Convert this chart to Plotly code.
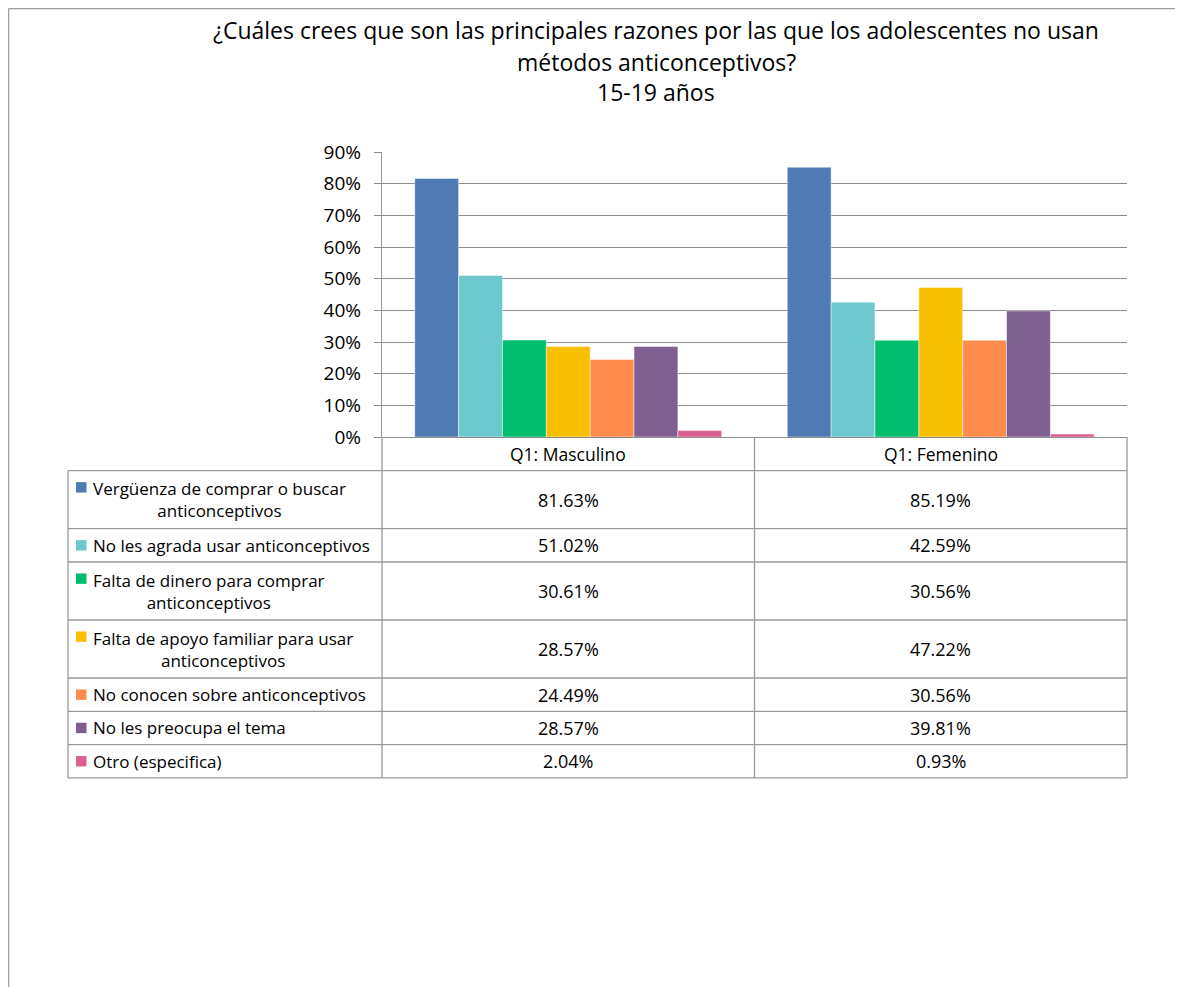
import textwrap
import plotly.graph_objects as go

# ---------------- data ----------------
categories = ["Q1: Masculino", "Q1: Femenino"]
reasons = [
    "Vergüenza de comprar o buscar anticonceptivos",
    "No les agrada usar anticonceptivos",
    "Falta de dinero para comprar anticonceptivos",
    "Falta de apoyo familiar para usar anticonceptivos",
    "No conocen sobre anticonceptivos",
    "No les preocupa el tema",
    "Otro (especifica)",
]
masculino = [81.63, 51.02, 30.61, 28.57, 24.49, 28.57, 2.04]
femenino = [85.19, 42.59, 30.56, 47.22, 30.56, 39.81, 0.93]
colors = ["#4E7BB4", "#6CC8CC", "#00BE6E", "#F8BF00", "#FF8B4E", "#7E5F8F", "#D9608F"]
title_lines = [
    "¿Cuáles crees que son las principales razones por las que los adolescentes no usan",
    "métodos anticonceptivos?",
    "15-19 años",
]
y_ticks = [0, 10, 20, 30, 40, 50, 60, 70, 80, 90]

# ---------------- layout helpers (page pixel coords -> paper) ----------------
OFF = 8                      # default page margin around the plot div
W, H = 1183 - OFF, 987 - OFF
FONT = "Open Sans"
def X(px):
    return (px - OFF) / W
def Y(py):
    return 1 - (py - OFF) / H

PLOT_L, PLOT_R = 382, 1127
PLOT_T, PLOT_B = 152, 437
TABLE_L = 68
MID = (PLOT_L + PLOT_R) / 2
HEADER_H = 33.7
ROW1 = 33.3
LINE_H = 24.7
GRID = "#8C8C8C"
BORDER = "#9A9A9A"

fig = go.Figure()
for name, m, f, c in zip(reasons, masculino, femenino, colors):
    fig.add_trace(go.Bar(
        x=categories, y=[m, f], name=name,
        marker=dict(color=c, line=dict(color="rgba(255,255,255,0.45)", width=1)),
        showlegend=False, hoverinfo="skip",
    ))

shapes = []
annotations = []

# outer chart border (top and left)
shapes.append(dict(type="line", xref="paper", yref="paper", x0=X(8.5), x1=X(1190), y0=Y(8.5), y1=Y(8.5),
                   line=dict(color="#A0A0A0", width=1.5)))
shapes.append(dict(type="line", xref="paper", yref="paper", x0=X(8.5), x1=X(8.5), y0=Y(8.5), y1=Y(1000),
                   line=dict(color="#A0A0A0", width=1.5)))

# title
for t, yc in zip(title_lines, [30, 62, 92]):
    annotations.append(dict(text=t, xref="paper", yref="paper", x=X(656), y=Y(yc),
                            xanchor="center", yanchor="middle", showarrow=False,
                            font=dict(family=FONT, size=23, color="#000000")))

# data table
wrapped = [textwrap.wrap(r, 34) for r in reasons]
row_tops = [PLOT_B + HEADER_H]
for lines in wrapped:
    row_tops.append(row_tops[-1] + ROW1 + LINE_H * (len(lines) - 1))
table_bottom = row_tops[-1]

for xv in [PLOT_L, MID, PLOT_R]:
    shapes.append(dict(type="line", xref="paper", yref="paper", x0=X(xv), x1=X(xv),
                       y0=Y(PLOT_B), y1=Y(table_bottom), line=dict(color=BORDER, width=1.3)))
shapes.append(dict(type="line", xref="paper", yref="paper", x0=X(TABLE_L), x1=X(TABLE_L),
                   y0=Y(row_tops[0]), y1=Y(table_bottom), line=dict(color=BORDER, width=1.3)))
for yt in row_tops:
    shapes.append(dict(type="line", xref="paper", yref="paper", x0=X(TABLE_L), x1=X(PLOT_R),
                       y0=Y(yt), y1=Y(yt), line=dict(color=BORDER, width=1.3)))

# header
for c in categories:
    annotations.append(dict(text=c, xref="x", yref="paper", x=c, y=Y(PLOT_B + HEADER_H / 2),
                            xanchor="center", yanchor="middle", showarrow=False,
                            font=dict(family=FONT, size=17.5, color="#000000")))

# rows
for i, lines in enumerate(wrapped):
    top, bot = row_tops[i], row_tops[i + 1]
    yc = (top + bot) / 2
    first_line_c = yc - LINE_H * (len(lines) - 1) / 2
    shapes.append(dict(type="rect", xref="paper", yref="paper",
                       x0=X(76), x1=X(86.5), y0=Y(first_line_c - 5.2), y1=Y(first_line_c + 5.2),
                       fillcolor=colors[i], line=dict(width=0)))
    annotations.append(dict(text="<br>".join(lines), xref="paper", yref="paper", x=X(91), y=Y(yc),
                            xanchor="left", yanchor="middle", align="center", showarrow=False,
                            font=dict(family=FONT, size=17, color="#000000")))
    for c, vals in zip(categories, [masculino, femenino]):
        annotations.append(dict(text=f"{vals[i]:.2f}%", xref="x", yref="paper", x=c, y=Y(yc),
                                xanchor="center", yanchor="middle", showarrow=False,
                                font=dict(family=FONT, size=18, color="#000000")))

fig.update_layout(
    width=W, height=H,
    margin=dict(l=0, r=0, t=0, b=0),
    paper_bgcolor="white", plot_bgcolor="white",
    barmode="group", bargap=0.176, bargroupgap=0,
    shapes=shapes, annotations=annotations,
    font=dict(family=FONT, color="#000000"),
    xaxis=dict(domain=[X(PLOT_L), X(PLOT_R)], showticklabels=False, showgrid=False,
               zeroline=False, showline=False, ticks="", automargin=False),
    yaxis=dict(domain=[Y(PLOT_B), Y(PLOT_T)], range=[0, 90], tickvals=y_ticks,
               ticktext=[f"{v}%" for v in y_ticks], showgrid=True, gridcolor=GRID, gridwidth=1,
               zeroline=True, zerolinecolor=GRID, zerolinewidth=1.3,
               showline=True, linecolor=BORDER, linewidth=1.3,
               ticks="outside", ticklen=7, tickcolor=GRID, tickwidth=1,
               ticklabelstandoff=9, automargin=False,
               tickfont=dict(family=FONT, size=19, color="#000000")),
)

fig.write_html("out.html")
